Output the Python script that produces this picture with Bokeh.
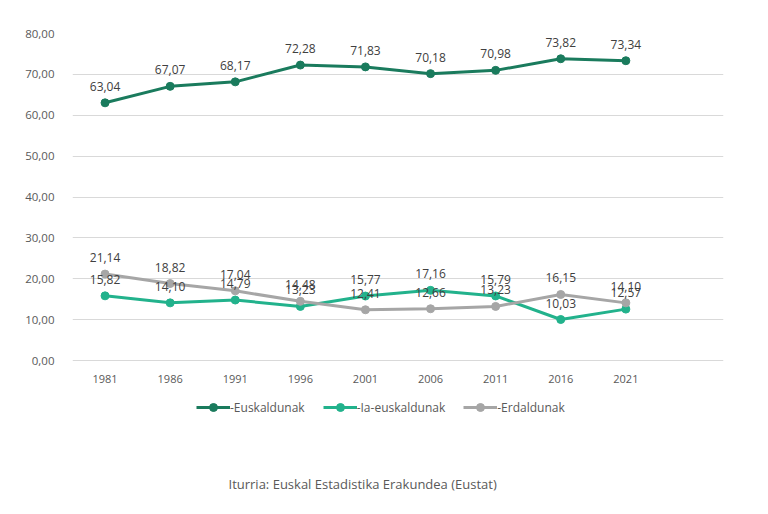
from bokeh.plotting import figure
from bokeh.models import (ColumnDataSource, FixedTicker, CustomJSTickFormatter, Legend,
                          LegendItem, LabelSet, Label, Range1d)
from bokeh.core.properties import value
from bokeh.embed import file_html
from bokeh.resources import INLINE

years = [1981, 1986, 1991, 1996, 2001, 2006, 2011, 2016, 2021]
euskaldunak = [63.04, 67.07, 68.17, 72.28, 71.83, 70.18, 70.98, 73.82, 73.34]
ia_euskaldunak = [15.82, 14.10, 14.79, 13.23, 15.77, 17.16, 15.79, 10.03, 12.57]
erdaldunak = [21.14, 18.82, 17.04, 14.48, 12.41, 12.66, 13.23, 16.15, 14.10]
series_names = ["-Euskaldunak", "-Ia-euskaldunak", "-Erdaldunak"]
y_ticks = [0, 10, 20, 30, 40, 50, 60, 70, 80]
source_text = "Iturria: Euskal Estadistika Erakundea (Eustat)"

colors = ["#1a7b5d", "#22b28c", "#a6a6a6"]
FONT = "Open Sans"

# frame spans 80 -> y=33 and 0 -> y=360, extended down to y=490 for legend/source
px_per_unit = (360 - 33) / 80.0
y_bottom = -(490 - 360) / px_per_unit

p = figure(width=752, height=498, output_backend="svg", toolbar_location=None,
           x_range=Range1d(1978.5, 2028.5), y_range=Range1d(y_bottom, 80),
           min_border_left=72, min_border_right=29, min_border_top=33, min_border_bottom=8)
p.outline_line_color = None
p.background_fill_color = "white"
p.border_fill_color = "white"

p.xaxis.visible = False
p.xgrid.grid_line_color = None
p.ygrid.grid_line_color = "#d9d9d9"
p.ygrid.grid_line_width = 1
p.yaxis.ticker = FixedTicker(ticks=y_ticks)
p.yaxis.formatter = CustomJSTickFormatter(code="return tick.toFixed(2).replace('.', ',');")
ax = p.yaxis[0]
ax.axis_line_color = None
ax.major_tick_line_color = None
ax.minor_tick_line_color = None
ax.major_label_text_font = FONT
ax.major_label_text_font_size = "11.5px"
ax.major_label_text_color = "#595959"
ax.major_label_standoff = 12

# year labels under the zero line
ysrc = ColumnDataSource(dict(x=years, y=[0] * len(years), lab=[str(y) for y in years]))
p.add_layout(LabelSet(x="x", y="y", text="lab", source=ysrc, y_offset=-18,
                      text_align="center", text_baseline="middle",
                      text_font=value(FONT), text_font_size="11px", text_color="#595959"))

items = []
for name, vals, col in zip(series_names, [euskaldunak, ia_euskaldunak, erdaldunak], colors):
    src = ColumnDataSource(dict(x=years, y=vals,
                                lab=[f"{v:.2f}".replace(".", ",") for v in vals]))
    r1 = p.line("x", "y", source=src, line_color=col, line_width=3)
    r2 = p.scatter("x", "y", source=src, size=8, fill_color=col, line_color=col)
    items.append(LegendItem(label=name, renderers=[r1, r2]))
    labels = LabelSet(x="x", y="y", text="lab", source=src, y_offset=12,
                      text_align="center", text_baseline="bottom",
                      text_font=value(FONT), text_font_size="12px", text_color="#404040")
    p.add_layout(labels)

legend = Legend(items=items, orientation="horizontal", location=(124, 73),
                label_text_font=FONT, label_text_font_size="12px", label_text_color="#595959",
                glyph_width=34, glyph_height=20, label_standoff=0, spacing=18,
                border_line_color=None, background_fill_alpha=0, padding=0, margin=0)
p.add_layout(legend, "center")

p.add_layout(Label(x=156, y=7, x_units="screen", y_units="screen", text=source_text,
                   text_align="left", text_baseline="middle", text_font=FONT,
                   text_font_size="13px", text_color="#595959"))

open("out.html", "w").write(file_html(p, INLINE))
